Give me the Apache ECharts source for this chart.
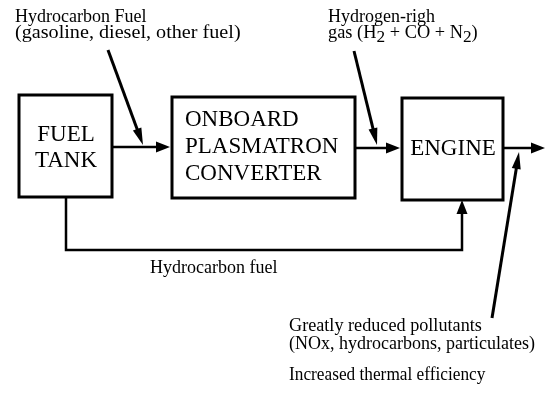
<!DOCTYPE html>
<html><head><meta charset="utf-8">
<script src="https://cdn.jsdelivr.net/npm/echarts@6/dist/echarts.min.js"></script>
<style>html,body{margin:0;padding:0;background:#fff}#c{width:545px;height:401px}</style>
</head><body><div id="c"></div>
<script>
// ---- diagram content (diagram units = pixel grid of the reference) ----
const boxLabels = [['FUEL', 'TANK'], ['ONBOARD', 'PLASMATRON', 'CONVERTER'], ['ENGINE']];
const boxLeft = [19, 172, 402];
const boxTop = [95, 97, 98];
const boxRight = [112, 355, 503];
const boxBottom = [197, 198, 200];

// arrows: polyline points, last point = arrow tip
const arrowPaths = [
  [[112, 147], [170, 147]],
  [[108, 50], [143, 145]],
  [[355, 148], [400, 148]],
  [[354, 51], [377, 145]],
  [[503, 148], [545, 148]],
  [[492, 318], [519, 152]],
  [[66, 197], [66, 250], [462, 250], [462, 200]]
];
const arrowKinds = ['flow', 'note', 'flow', 'note', 'flow', 'note', 'flow'];

const noteTexts = [
  'Hydrocarbon Fuel',
  '(gasoline, diesel, other fuel)',
  'Hydrogen-righ',
  'gas (H{sub|2} + CO + N{sub|2})',
  'Hydrocarbon fuel',
  'Greatly reduced pollutants',
  '(NOx, hydrocarbons, particulates)',
  'Increased thermal efficiency'
];
const noteX = [15, 15, 328, 328, 150, 289, 289, 289];
const noteY = [17, 33, 17, 33, 268, 326, 344, 375];

// ---- rendering ----
const FONT = '"Liberation Serif", "Times New Roman", serif';
const boxTextAnchor = [[66, 148], [185, 147], [453, 149]];
const boxTextAlign = ['center', 'left', 'center'];
const noteStretch = [1, 1.12, 1, 1.02, 1, 1.01, 1, 0.96];

const chart = echarts.init(document.getElementById('c'), null, { renderer: 'canvas' });

const option = {
  animation: false,
  backgroundColor: '#ffffff',
  grid: { left: 0, right: 0, top: 0, bottom: 0 },
  xAxis: { type: 'value', min: 0, max: 545, show: false },
  yAxis: { type: 'value', min: 0, max: 401, inverse: true, show: false },
  series: [
    {
      type: 'custom',
      name: 'boxes',
      coordinateSystem: 'cartesian2d',
      data: boxLabels.map((_, i) => [boxLeft[i], boxTop[i], boxRight[i], boxBottom[i]]),
      encode: { x: [0, 2], y: [1, 3] },
      renderItem: (params, api) => {
        const i = params.dataIndex;
        const p0 = api.coord([api.value(0), api.value(1)]);
        const p1 = api.coord([api.value(2), api.value(3)]);
        const t = api.coord(boxTextAnchor[i]);
        return {
          type: 'group',
          children: [
            {
              type: 'rect',
              shape: { x: p0[0], y: p0[1], width: p1[0] - p0[0], height: p1[1] - p0[1] },
              style: { fill: '#fff', stroke: '#000', lineWidth: 3 }
            },
            {
              type: 'text',
              x: t[0], y: t[1],
              style: {
                text: boxLabels[i].join('\n'),
                font: '23px ' + FONT,
                fill: '#000',
                align: boxTextAlign[i],
                verticalAlign: 'middle',
                lineHeight: i === 0 ? 26 : 27
              }
            }
          ]
        };
      }
    },
    {
      type: 'custom',
      name: 'arrows',
      coordinateSystem: 'cartesian2d',
      data: arrowPaths.map(p => p[p.length - 1]),
      renderItem: (params, api) => {
        const i = params.dataIndex;
        const pts = arrowPaths[i].map(p => api.coord(p));
        const n = pts.length;
        const a = pts[n - 2], b = pts[n - 1];
        const dx = b[0] - a[0], dy = b[1] - a[1];
        const len = Math.hypot(dx, dy);
        const ux = dx / len, uy = dy / len;
        const note = arrowKinds[i] === 'note';
        const L = note ? 17 : 14, W = note ? 4.5 : 5.5;
        const base = [b[0] - ux * L, b[1] - uy * L];
        const linePts = pts.slice(0, n - 1).concat([[b[0] - ux * (L - 2), b[1] - uy * (L - 2)]]);
        return {
          type: 'group',
          children: [
            {
              type: 'polyline',
              shape: { points: linePts },
              style: { stroke: '#000', lineWidth: note ? 3 : 2.5, fill: null, lineJoin: 'miter' }
            },
            {
              type: 'polygon',
              shape: { points: [b, [base[0] - uy * W, base[1] + ux * W], [base[0] + uy * W, base[1] - ux * W]] },
              style: { fill: '#000' }
            }
          ]
        };
      }
    },
    {
      type: 'custom',
      name: 'notes',
      coordinateSystem: 'cartesian2d',
      data: noteTexts.map((_, i) => [noteX[i], noteY[i]]),
      renderItem: (params, api) => {
        const i = params.dataIndex;
        const p = api.coord([api.value(0), api.value(1)]);
        return {
          type: 'text',
          x: p[0], y: p[1],
          scaleX: noteStretch[i],
          style: {
            text: noteTexts[i],
            font: '18px ' + FONT,
            fill: '#000',
            align: 'left',
            verticalAlign: 'middle',
            rich: {
              sub: { font: '17px ' + FONT, fill: '#000', padding: [9, 0, 0, 0] }
            }
          }
        };
      }
    }
  ]
};
chart.setOption(option);
</script>
</body></html>
